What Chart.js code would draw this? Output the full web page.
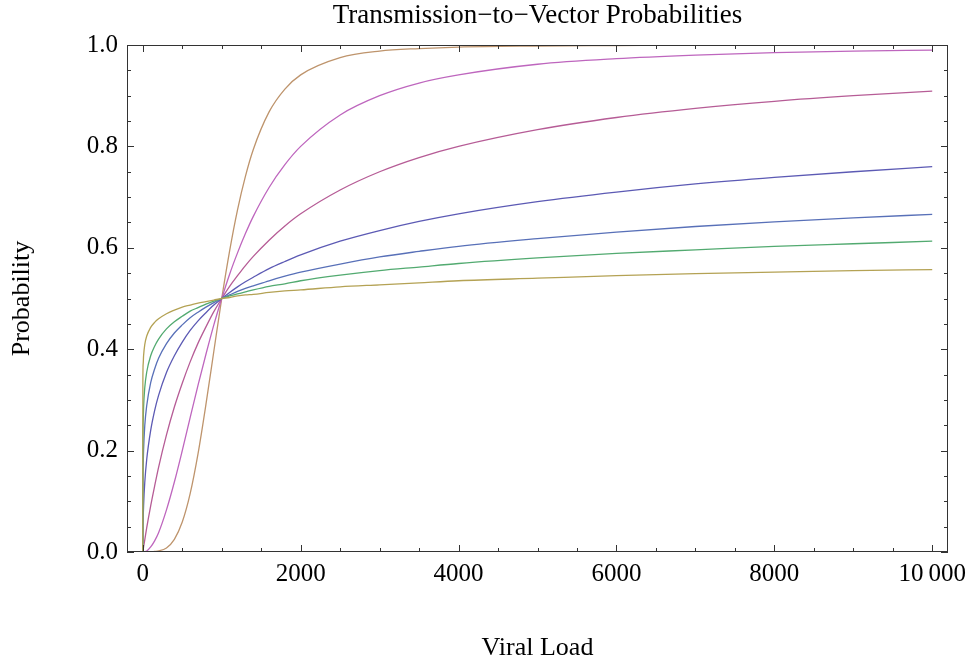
<!DOCTYPE html>
<html>
<head>
<meta charset="utf-8">
<script src="https://cdn.jsdelivr.net/npm/chart.js@4.4.1/dist/chart.umd.min.js"></script>
<style>
  html, body { margin: 0; padding: 0; background: #fff; }
  #wrap { width: 969px; height: 665px; }
</style>
</head>
<body>
<div id="wrap"><canvas id="plot" width="969" height="665"></canvas></div>
<script>
// viral load sample points
var viralLoad = [0, 1, 5, 10, 25, 50, 100, 150, 200, 300, 400, 500, 600, 700, 800, 900,
    1000, 1100, 1200, 1300, 1400, 1600, 1800, 2000, 2500, 3000, 3500, 4000,
    5000, 6000, 7000, 8000, 9000, 10000];

// probability curves
var probA = [0, .334, .371, .387, .409, .426, .443, .453, .460, .470, .477, .483, .487, .491, .494, .497,
    .500, .502, .505, .507, .508, .512, .515, .517, .523, .527, .531, .535, .540, .545, .549, .552, .555, .557];
var probB = [0, .201, .257, .285, .324, .355, .387, .406, .420, .440, .454, .465, .475, .482, .489, .495,
    .500, .505, .509, .513, .517, .524, .529, .535, .546, .555, .562, .569, .580, .589, .596, .603, .608, .613];
var probC = [0, .112, .170, .201, .249, .289, .334, .361, .382, .411, .432, .448, .462, .473, .483, .492,
    .500, .507, .514, .520, .525, .535, .544, .552, .568, .582, .593, .603, .618, .631, .642, .651, .659, .666];
var probD = [0, .031, .066, .091, .137, .183, .240, .279, .309, .354, .387, .414, .437, .456, .472, .487,
    .500, .512, .523, .533, .542, .559, .573, .586, .613, .634, .652, .667, .691, .710, .726, .739, .750, .760];
var probE = [0, .001, .005, .010, .024, .048, .091, .130, .167, .231, .286, .333, .375, .412, .444, .474,
    .500, .524, .545, .565, .583, .615, .643, .667, .714, .750, .778, .800, .833, .857, .875, .889, .900, .909];
var probF = [0, 0, 0, 0, .001, .002, .010, .022, .038, .083, .138, .200, .265, .329, .390, .448,
    .500, .548, .590, .628, .662, .719, .764, .800, .862, .900, .925, .941, .962, .973, .980, .985, .988, .990];
var probG = [0, 0, 0, 0, 0, 0, 0, .001, .002, .008, .025, .059, .115, .194, .291, .396,
    .500, .594, .675, .741, .794, .868, .913, .941, .975, .988, .993, .996, .998, .999, 1, 1, 1, 1];

var xTicks = [0, 2000, 4000, 6000, 8000, 10000];
var yTicks = [0, 0.2, 0.4, 0.6, 0.8, 1.0];

var serif = "'Liberation Serif', 'Times New Roman', serif";

function pts(ys) {
    return viralLoad.map(function(x, i) { return {x: x, y: ys[i]}; });
}

function curve(ys, color) {
    return {
        data: pts(ys),
        borderColor: color,
        borderWidth: 1.3,
        pointRadius: 0,
        fill: false,
        cubicInterpolationMode: 'monotone'
    };
}

// frame with inward ticks on all four sides, plus the title
var framePlugin = {
    id: 'frame',
    afterDatasetsDraw: function(chart) {
        var ctx = chart.ctx, a = chart.chartArea;
        var xs = chart.scales.x, ys = chart.scales.y;
        ctx.save();
        ctx.strokeStyle = '#333';
        ctx.lineWidth = 1;
        ctx.strokeRect(a.left + 0.5, a.top + 0.5, a.right - a.left - 1, a.bottom - a.top - 1);
        ctx.beginPath();
        for (var v = 0; v <= 10000; v += 500) {
            var px = Math.round(xs.getPixelForValue(v)) + 0.5;
            var len = (v % 2000 === 0) ? 7 : 4;
            ctx.moveTo(px, a.bottom); ctx.lineTo(px, a.bottom - len);
            ctx.moveTo(px, a.top); ctx.lineTo(px, a.top + len);
        }
        for (var k = 0; k <= 20; k++) {
            var py = Math.round(ys.getPixelForValue(k * 0.05)) + 0.5;
            var l2 = (k % 4 === 0) ? 7 : 4;
            ctx.moveTo(a.left, py); ctx.lineTo(a.left + l2, py);
            ctx.moveTo(a.right, py); ctx.lineTo(a.right - l2, py);
        }
        ctx.stroke();
        ctx.fillStyle = '#000';
        ctx.font = '27px ' + serif;
        ctx.textAlign = 'center';
        ctx.textBaseline = 'middle';
        ctx.fillText('Transmission\u2212to\u2212Vector Probabilities', (a.left + a.right) / 2, 16);
        ctx.restore();
    }
};

var chart = new Chart(document.getElementById('plot'), {
    type: 'line',
    data: {
        datasets: [
            curve(probA, 'rgb(180,162,84)'),
            curve(probB, 'rgb(82,170,112)'),
            curve(probC, 'rgb(88,112,184)'),
            curve(probD, 'rgb(92,90,180)'),
            curve(probE, 'rgb(182,92,150)'),
            curve(probF, 'rgb(190,102,190)'),
            curve(probG, 'rgb(190,148,108)')
        ]
    },
    options: {
        responsive: false,
        animation: false,
        layout: {padding: {top: 45, right: 21, left: 0, bottom: 0}},
        plugins: {legend: {display: false}, tooltip: {enabled: false}, title: {display: false}},
        scales: {
            x: {
                type: 'linear',
                min: -200,
                max: 10200,
                grid: {display: false, drawTicks: false},
                border: {display: false},
                afterBuildTicks: function(s) { s.ticks = xTicks.map(function(v) { return {value: v}; }); },
                afterFit: function(s) { s.height = 113; s.paddingLeft = 0; s.paddingRight = 0; },
                ticks: {
                    autoSkip: false,
                    maxRotation: 0,
                    padding: 7,
                    color: '#000',
                    font: {family: serif, size: 25},
                    callback: function(v) { return v === 10000 ? '10\u2009000' : String(v); }
                },
                title: {
                    display: true,
                    text: 'Viral Load',
                    color: '#000',
                    font: {family: serif, size: 26},
                    padding: {top: 0, bottom: 1}
                }
            },
            y: {
                min: 0,
                max: 1,
                grid: {display: false, drawTicks: false},
                border: {display: false},
                afterBuildTicks: function(s) { s.ticks = yTicks.map(function(v) { return {value: v}; }); },
                afterFit: function(s) { s.width = 127; s.paddingTop = 0; s.paddingBottom = 0; },
                ticks: {
                    padding: 9,
                    color: '#000',
                    font: {family: serif, size: 25},
                    callback: function(v) { return Number(v).toFixed(1); }
                },
                title: {
                    display: true,
                    text: 'Probability',
                    color: '#000',
                    font: {family: serif, size: 26},
                    padding: {top: 7, bottom: 0}
                }
            }
        }
    },
    plugins: [framePlugin]
});
</script>
</body>
</html>
